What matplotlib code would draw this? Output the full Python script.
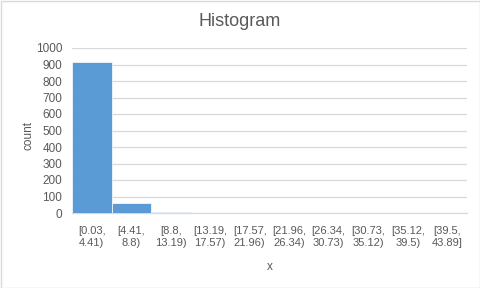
import numpy as np
import matplotlib
matplotlib.use('Agg')
import matplotlib.pyplot as plt
from matplotlib.patches import Rectangle

plt.rcParams['font.family'] = ['Liberation Sans', 'DejaVu Sans']

# bins and counts
bin_labels = ['[0.03,\n4.41)', '[4.41,\n8.8)', '[8.8,\n13.19)', '[13.19,\n17.57)',
              '[17.57,\n21.96)', '[21.96,\n26.34)', '[26.34,\n30.73)', '[30.73,\n35.12)',
              '[35.12,\n39.5)', '[39.5,\n43.89]']
counts = [915, 61, 6, 1, 1, 0, 0, 0, 0, 1]
y_ticks = [0, 100, 200, 300, 400, 500, 600, 700, 800, 900, 1000]

TXT = '#595959'
BAR = '#5B9BD5'

fig = plt.figure(figsize=(4.8, 2.88), dpi=100)
ax = fig.add_axes([72/480, 1 - 213/288, (467 - 72)/480, (213 - 48)/288])

x = np.arange(len(counts))
ax.bar(x, counts, width=1.0, color=BAR, edgecolor='white', linewidth=0.5, zorder=3)

ax.set_xlim(-0.5, len(counts) - 0.5)
ax.set_ylim(0, 1000)
ax.set_yticks(y_ticks)
ax.set_xticks(x)
ax.set_xticklabels(bin_labels, fontsize=8, color=TXT, linespacing=1.35)
ax.tick_params(axis='y', labelsize=8.5, colors=TXT, length=0, pad=7)
ax.tick_params(axis='x', length=0, pad=9)

ax.grid(axis='y', color='#D9D9D9', linewidth=0.9, zorder=0)
for s in ['top', 'right', 'left']:
    ax.spines[s].set_visible(False)
ax.spines['bottom'].set_color('#D9D9D9')
ax.spines['bottom'].set_linewidth(0.9)

ax.set_xlabel('x', fontsize=8.5, color=TXT, labelpad=9)
ax.set_ylabel('count', fontsize=8.5, color=TXT)
ax.yaxis.set_label_coords(-0.095, 0.47)
fig.text(0.5, 1 - 22/288, 'Histogram', ha='center', va='center', fontsize=13, color=TXT)

# chart border
fig.patches.append(Rectangle((0.5/480, 0.5/288), 479/480, 287/288, transform=fig.transFigure,
                             fill=False, edgecolor='#D9D9D9', linewidth=1.0))

fig.savefig('out.png', dpi=100)
